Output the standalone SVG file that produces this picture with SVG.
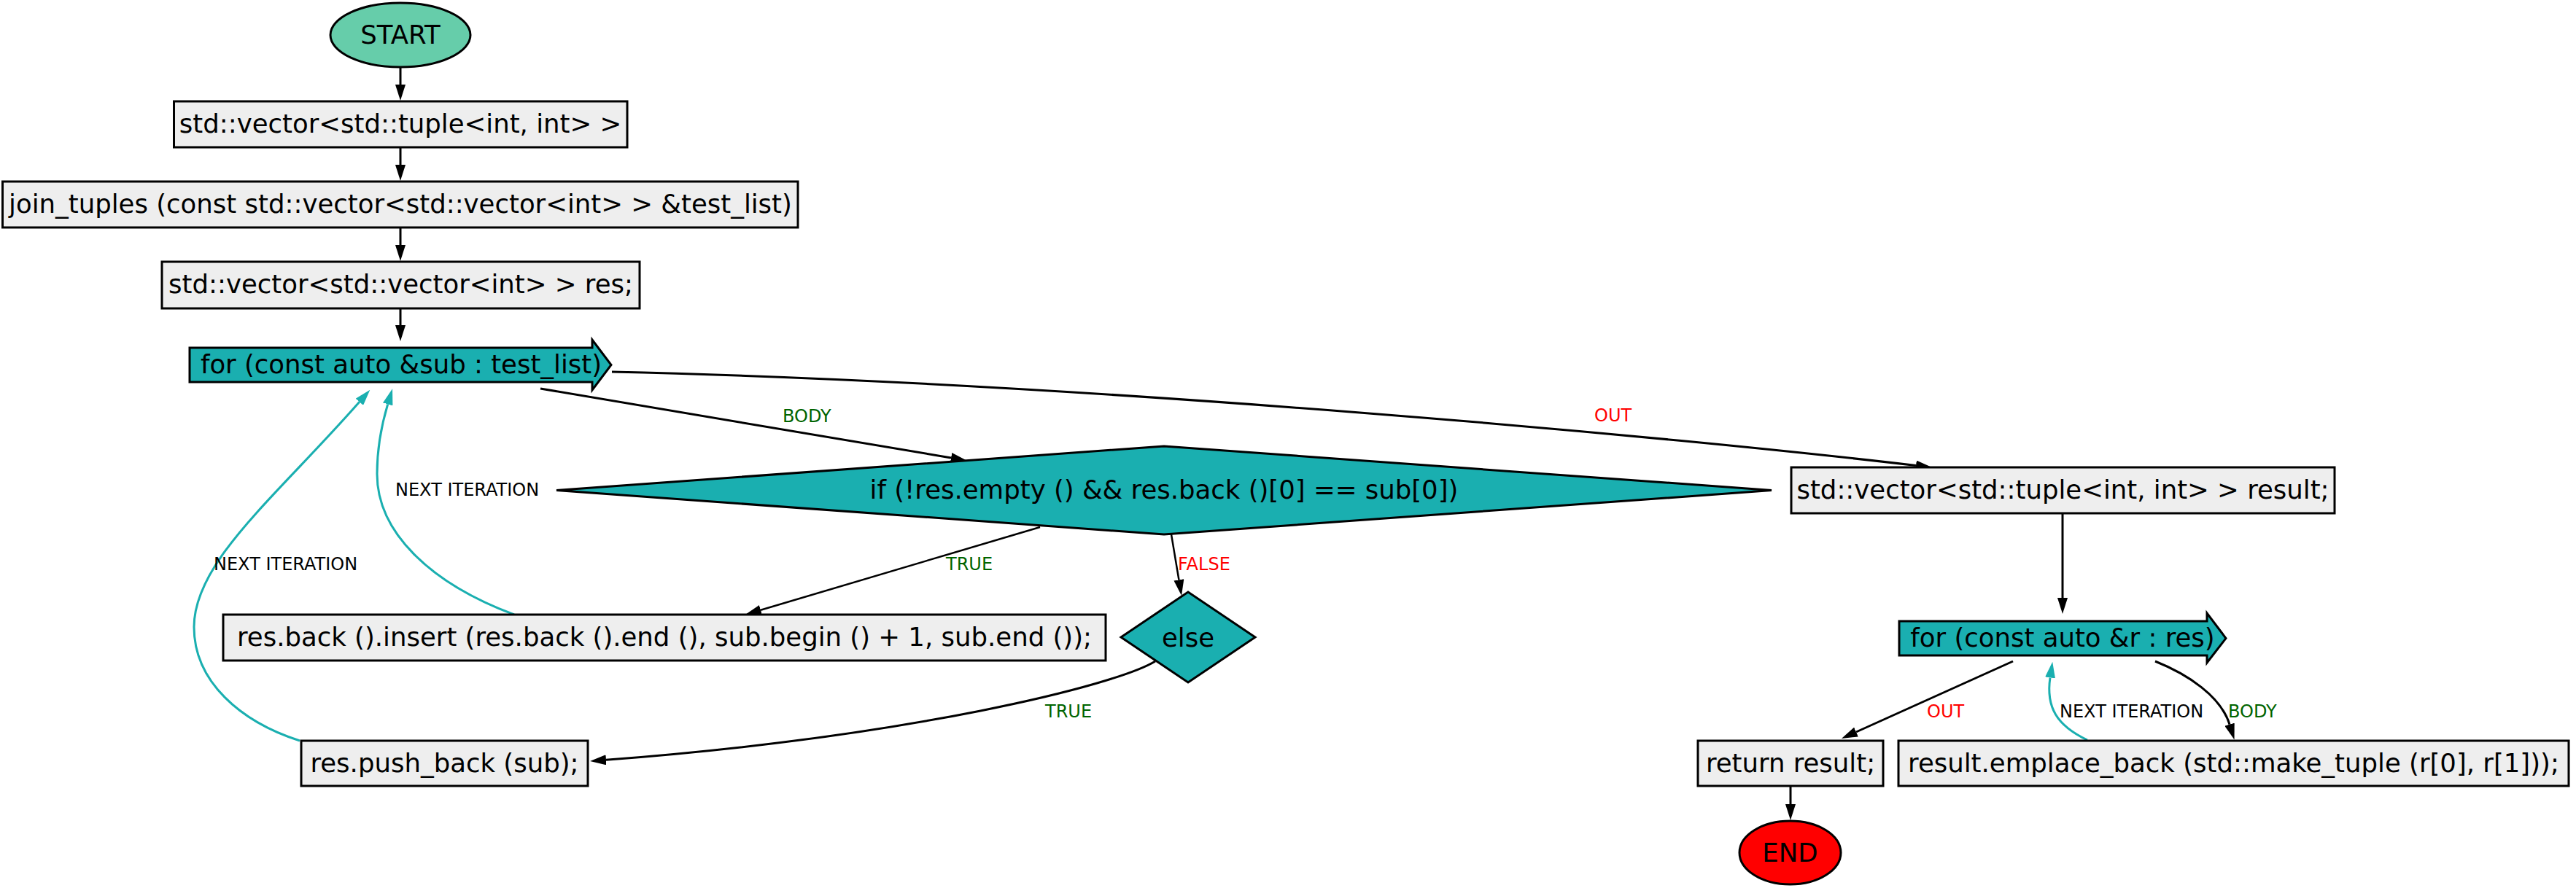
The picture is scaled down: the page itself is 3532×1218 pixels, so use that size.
<svg xmlns="http://www.w3.org/2000/svg" width="3532" height="1218" viewBox="0 0 3532 1218">
<style>
.nt{font-family:"DejaVu Sans","Liberation Sans",sans-serif;font-size:35.5px;fill:#000;text-anchor:middle}
.el{font-family:"DejaVu Sans","Liberation Sans",sans-serif;font-size:24px}
.box{fill:#eeeeee;stroke:#000;stroke-width:3}
.teal{fill:#1aafb0;stroke:#000;stroke-width:3}
.e{fill:none;stroke:#000;stroke-width:3}
.e2{fill:none;stroke:#000;stroke-width:2.5}
.c{fill:none;stroke:#1aafb0;stroke-width:3}
.g{fill:#006400}
.r{fill:#ff0000}
.k{fill:#000}
</style>
<defs>
<marker id="ab" viewBox="0 0 22 14" refX="0" refY="7" markerWidth="22" markerHeight="14" markerUnits="userSpaceOnUse" orient="auto"><path d="M0,0 L22,7 L0,14 z" fill="#000"/></marker>
<marker id="at" viewBox="0 0 22 14" refX="0" refY="7" markerWidth="22" markerHeight="14" markerUnits="userSpaceOnUse" orient="auto"><path d="M0,0 L22,7 L0,14 z" fill="#1aafb0"/></marker>
</defs>
<rect width="3532" height="1218" fill="#fff"/>
<g id="edges">
<path class="e" d="M549,92 L549,116" marker-end="url(#ab)"/>
<path class="e" d="M549,202 L549,226" marker-end="url(#ab)"/>
<path class="e" d="M549,312 L549,336" marker-end="url(#ab)"/>
<path class="e" d="M549,423 L549,446" marker-end="url(#ab)"/>
<path class="e" d="M741,533 L1304,628" marker-end="url(#ab)"/>
<text class="el g" x="1073" y="579">BODY</text>
<path class="e" d="M839,510 C1500,525 2300,600 2627,638.5" marker-end="url(#ab)"/>
<text class="el r" x="2186" y="578">OUT</text>
<path class="e2" d="M1426,723 L1043,836.7" marker-end="url(#ab)"/>
<text class="el g" x="1297" y="782">TRUE</text>
<path class="e2" d="M1606,733 L1616.4,795.3" marker-end="url(#ab)"/>
<text class="el r" x="1615" y="782">FALSE</text>
<path class="e" d="M1584,907 C1530,940 1250,1010 831,1042.3" marker-end="url(#ab)"/>
<text class="el g" x="1433" y="984">TRUE</text>
<path class="c" d="M705,843 C590,800 517,730 517,650 C517,610 524,580 531.7,554.4" marker-end="url(#at)"/>
<text class="el k" x="542" y="680">NEXT ITERATION</text>
<path class="c" d="M411,1016 C330,990 266,935 266,860 C266,770 380,680 492.8,551.3" marker-end="url(#at)"/>
<text class="el k" x="293" y="782">NEXT ITERATION</text>
<path class="e" d="M2828,704 L2828,820" marker-end="url(#ab)"/>
<path class="e" d="M2760,907 L2545,1004" marker-end="url(#ab)"/>
<text class="el r" x="2642" y="984">OUT</text>
<path class="e" d="M2955,907 C3000,925 3045,955 3057,993.6" marker-end="url(#ab)"/>
<text class="el g" x="3055" y="984">BODY</text>
<path class="c" d="M2862,1015 C2820,995 2805,970 2811,929.4" marker-end="url(#at)"/>
<text class="el k" x="2824" y="984">NEXT ITERATION</text>
<path class="e" d="M2455,1078 L2455,1103" marker-end="url(#ab)"/>
</g>
<g id="start"><ellipse cx="549" cy="48" rx="96" ry="44" fill="#66cdaa" stroke="#000" stroke-width="3"/><text class="nt" x="549" y="60">START</text></g>
<g id="n1"><rect class="box" x="238.5" y="139" width="621.5" height="63"/><text class="nt" x="549" y="182">std::vector&lt;std::tuple&lt;int, int&gt; &gt;</text></g>
<g id="n2"><rect class="box" x="3.5" y="249" width="1090.5" height="63"/><text class="nt" x="549" y="292">join_tuples (const std::vector&lt;std::vector&lt;int&gt; &gt; &amp;test_list)</text></g>
<g id="n3"><rect class="box" x="222" y="359" width="655" height="64"/><text class="nt" x="549.5" y="402">std::vector&lt;std::vector&lt;int&gt; &gt; res;</text></g>
<g id="for1"><polygon class="teal" points="260,477 812,477 812,466 838,500.5 812,535 812,524 260,524"/><text class="nt" x="550" y="512">for (const auto &amp;sub : test_list)</text></g>
<g id="if1"><polygon class="teal" points="763,672.5 1596,612 2429,672.5 1596,733"/><text class="nt" x="1596" y="684">if (!res.empty () &amp;&amp; res.back ()[0] == sub[0])</text></g>
<g id="result"><rect class="box" x="2456" y="641" width="745" height="63"/><text class="nt" x="2828.5" y="684">std::vector&lt;std::tuple&lt;int, int&gt; &gt; result;</text></g>
<g id="insert"><rect class="box" x="306" y="843" width="1210" height="63"/><text class="nt" x="911" y="886">res.back ().insert (res.back ().end (), sub.begin () + 1, sub.end ());</text></g>
<g id="else"><polygon class="teal" points="1537,874 1629,812 1721,874 1629,936"/><text class="nt" x="1629" y="887">else</text></g>
<g id="for2"><polygon class="teal" points="2604,852 3026,852 3026,841 3052,875.5 3026,909 3026,899 2604,899"/><text class="nt" x="2828" y="887">for (const auto &amp;r : res)</text></g>
<g id="push"><rect class="box" x="413" y="1016" width="393" height="62"/><text class="nt" x="609.5" y="1059">res.push_back (sub);</text></g>
<g id="ret"><rect class="box" x="2328" y="1016" width="254" height="62"/><text class="nt" x="2455" y="1059">return result;</text></g>
<g id="emplace"><rect class="box" x="2603" y="1016" width="919" height="62"/><text class="nt" x="3062.5" y="1059">result.emplace_back (std::make_tuple (r[0], r[1]));</text></g>
<g id="end"><ellipse cx="2454.5" cy="1169.5" rx="69.5" ry="43.5" fill="#ff0000" stroke="#000" stroke-width="3"/><text class="nt" x="2454.5" y="1182">END</text></g>
</svg>
